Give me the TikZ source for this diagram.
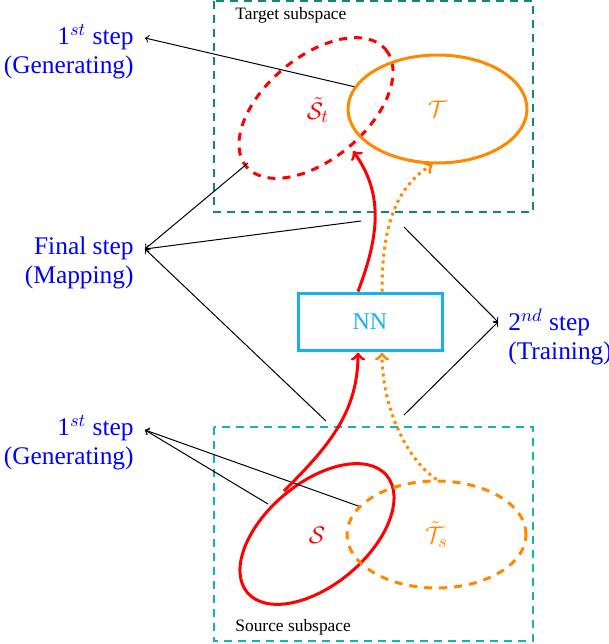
\documentclass[tikz,border=0pt]{standalone}
\usepackage{fontspec}
\setmainfont{Liberation Serif}
\usetikzlibrary{shapes.geometric,calc}
\definecolor{tealtop}{RGB}{16,136,116}
\definecolor{tealbot}{RGB}{22,176,186}
\definecolor{nnblue}{RGB}{20,178,238}
\definecolor{orng}{RGB}{255,136,0}
\begin{document}
\begin{tikzpicture}[x=0.5pt,y=-0.5pt,
  lbl/.style={text=blue, font=\fontsize{12.7}{14.5}\selectfont, inner sep=0pt},
  sub/.style={font=\fontsize{8.7}{10}\selectfont, inner sep=0pt},
  mlbl/.style={font=\fontsize{12.7}{14.5}\selectfont, inner sep=0pt},
  ell/.style={ellipse, inner sep=0pt, line width=1.5pt, font=\fontsize{12.7}{14.5}\selectfont},
  boxdash/.style={line width=1pt, dash pattern=on 4pt off 3pt},
  elldash/.style={dash pattern=on 4pt off 3.5pt},
  con/.style={->, black, line width=0.5pt},
  flow/.style={->, line width=1.5pt}]
\useasboundingbox (0,0) rectangle (609,644);

% subspace boxes
\draw[boxdash, tealtop] (214,1) rectangle (533,212);
\draw[boxdash, tealbot] (214,427) rectangle (533,641);
\node[sub, anchor=base west] (tsub) at (235,19) {Target subspace};
\node[sub, anchor=base west] (ssub) at (235,631) {Source subspace};

% ellipses
\draw[red, line width=1.5pt, elldash, rotate around={40:(316,108)}] (316,108) ellipse [x radius=91, y radius=51];
\node[mlbl, text=red] (Stl) at (318,110) {$\tilde{\mathcal{S}}_t$};
\node[ell, draw=orng, text=orng, minimum width=89.5pt, minimum height=54pt] (T) at (437.5,109) {$\mathcal{T}$};
\draw[red, line width=1.5pt, rotate around={40:(317,534)}] (317,534) ellipse [x radius=91, y radius=51];
\node[mlbl, text=red] (Sl) at (317,535) {$\mathcal{S}$};
\node[ell, draw=orng, text=orng, elldash, minimum width=89.5pt, minimum height=53.5pt] (Ts) at (436.5,534.5) {$\tilde{\mathcal{T}}_s$};

% NN
\node[draw=nnblue, line width=1.5pt, minimum width=72pt, minimum height=28.5pt,
      text=nnblue, font=\fontsize{12}{14}\selectfont] (NN) at (370,321.5) {NN};

% step labels
\node[lbl, anchor=east, align=right] (gen1) at (134,52) {1$^{st}$ step\\(Generating)};
\node[lbl, anchor=east, align=right] (final) at (134,263) {Final step\\(Mapping)};
\node[lbl, anchor=east, align=right] (gen2) at (134,443) {1$^{st}$ step\\(Generating)};
\node[lbl, anchor=west, align=left] (train) at (508,337) {2$^{nd}$ step\\(Training)};

% connector coordinates
\coordinate (g1t) at (145,38);
\coordinate (ft) at (145,249);
\coordinate (g2t) at (145,430);
\coordinate (trt) at (498,322);
\coordinate (stbl) at (248,163);
\coordinate (stin) at (353,151);
\coordinate (fa) at (361,221);
\coordinate (fb) at (326,421);
\coordinate (ta) at (404,227);
\coordinate (tb) at (404,415);
\coordinate (sul) at (268,504);
\coordinate (sst) at (284,491);

% black connectors
\draw[con] (T.165) -- (g1t);
\draw[con] (stbl) -- (ft);
\draw[con] (fa) -- (ft);
\draw[con] (fb) -- (ft);
\draw[con] (ta) -- (trt);
\draw[con] (tb) -- (trt);
\draw[con] (sul) -- (g2t);
\draw[con] (Ts.160) -- (g2t);

% flows
\draw[flow, red] (sst) .. controls +(43,-43) and +(0,61) .. ($(NN.south)+(-12,1)$);
\draw[flow, red] ($(NN.north)+(-12,0)$) .. controls +(20,-53) and +(32,44) .. (stin);
\draw[flow, orng, dotted] (Ts.north) .. controls +(-32,-22) and +(0,52) .. ($(NN.south)+(12,1)$);
\draw[flow, orng, dotted] ($(NN.north)+(12,0)$) .. controls +(0,-53) and +(-42,25) .. (T.265);
\end{tikzpicture}
\end{document}
